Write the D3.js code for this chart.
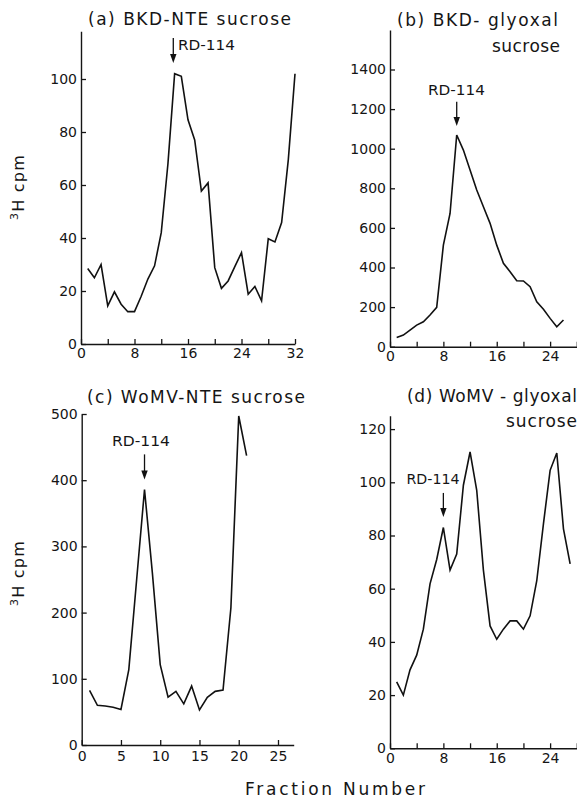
<!DOCTYPE html>
<html>
<head>
<meta charset="utf-8">
<script src="https://cdn.jsdelivr.net/npm/d3@7"></script>
<style>
  body { margin: 0; background: #fff; }
  svg { display: block; }
  text { font-family: "DejaVu Sans", sans-serif; fill: #151515; }
</style>
</head>
<body>
<svg id="chart" width="577" height="798"></svg>
<script>
// ---------------- DATA ----------------
// (a) BKD-NTE sucrose
const fractionsA = [1,2,3,4,5,6,7,8,9,10,11,12,13,14,15,16,17,18,19,20,21,22,23,24,25,26,27,28,29,30,31,32];
const cpmA = [28.5,25,30,14.4,19.7,15,12.2,12.2,18,24.5,29.5,42,68,102,101,84.6,77,57.7,60.8,28.8,21,23.8,29.2,34.5,18.8,21.7,16.3,39.7,38.5,45.8,69.6,102];
// (b) BKD-glyoxal sucrose
const fractionsB = [1,2,3,4,5,6,7,8,9,10,11,12,13,14,15,16,17,18,19,20,21,22,23,24,25,26];
const cpmB = [47,59,84,109,126,160,199,513,673,1069,993,892,791,707,623,513,421,379,333,332,303,227,189,143,101,135];
// (c) WoMV-NTE sucrose
const fractionsC = [1,2,3,4,5,6,7,8,9,10,11,12,13,14,15,16,17,18,19,20,21];
const cpmC = [82.5,60,59,57,53.7,114,250,386,260,121.5,72.4,81,62.2,89,53,72,81,83,207,497,437];
// (d) WoMV-glyoxal sucrose
const fractionsD = [1,2,3,4,5,6,7,8,9,10,11,12,13,14,15,16,17,18,19,20,21,22,23,24,25,26,27];
const cpmD = [25,20,29.5,35,44.8,61.8,71,83,67,73,98.9,111.4,97,67,46,41,44.8,47.9,47.9,44.8,49.8,63,84.4,104.5,111,82.5,69.3];

// axis ticks
const yTicksA = [0,20,40,60,80,100];
const yTicksB = [0,200,400,600,800,1000,1200,1400];
const yTicksC = [0,100,200,300,400,500];
const yTicksD = [0,20,40,60,80,100,120];
const xTicksA = [0,4,8,12,16,20,24,28,32];
const xLabelsA = [0,8,16,24,32];
const xTicksB = [0,4,8,12,16,20,24,28];
const xLabelsB = [0,8,16,24];
const xTicksC = [0,5,10,15,20,25];
const xLabelsC = [0,5,10,15,20,25];
const xTicksD = [0,4,8,12,16,20,24,28];
const xLabelsD = [0,8,16,24];

// RD-114 marker: fraction, arrow top (cpm), arrow tip (cpm)
const markerFraction = [13.8, 10, 8, 8];
const markerTop = [115.5, 1237, 439, 96];
const markerTip = [106, 1115, 401, 87];
const markerLabel = "RD-114";

// ---------------- LAYOUT ----------------
const svg = d3.select("#chart");

const panels = [
  { fr: fractionsA, v: cpmA, xDom: [0,32], xRange: [81, 295], yDom: [0,118], yRange: [344, 31.3],
    yTicks: yTicksA, xTicks: xTicksA, xLabels: xLabelsA, xPad: 4,
    m: 0, lab: { x: 178, y: 50, len: 57, anchor: "start" },
    titles: [{ t: "(a) BKD-NTE sucrose", x: 88, y: 25, len: 203 }] },
  { fr: fractionsB, v: cpmB, xDom: [0,28], xRange: [390, 576.8], yDom: [0,1600], yRange: [346.7, 29.9],
    yTicks: yTicksB, xTicks: xTicksB, xLabels: xLabelsB, xPad: 4,
    m: 1, lab: { x: 456.5, y: 95, len: 57, anchor: "middle" },
    titles: [{ t: "(b) BKD- glyoxal", x: 397, y: 26, len: 161 },
             { t: "sucrose", x: 492, y: 52, len: 68 }] },
  { fr: fractionsC, v: cpmC, xDom: [0,27], xRange: [81.7, 293.7], yDom: [0,500], yRange: [745, 414],
    yTicks: yTicksC, xTicks: xTicksC, xLabels: xLabelsC, xPad: 6,
    m: 2, lab: { x: 141, y: 445.7, len: 58, anchor: "middle" },
    titles: [{ t: "(c) WoMV-NTE sucrose", x: 87, y: 403, len: 218 }] },
  { fr: fractionsD, v: cpmD, xDom: [0,28], xRange: [390, 576.8], yDom: [0,125], yRange: [748.3, 415.8],
    yTicks: yTicksD, xTicks: xTicksD, xLabels: xLabelsD, xPad: 5,
    m: 3, lab: { x: 433, y: 484, len: 53, anchor: "middle" },
    titles: [{ t: "(d) WoMV - glyoxal", x: 407, y: 402, len: 170 },
             { t: "sucrose", x: 506, y: 427, len: 71 }] }
];

panels.forEach(p => {
  const x = d3.scaleLinear().domain(p.xDom).range(p.xRange);
  const y = d3.scaleLinear().domain(p.yDom).range(p.yRange);
  const g = svg.append("g");

  // y axis (ticks point inward)
  const ya = g.append("g")
    .attr("transform", `translate(${p.xRange[0]},0)`)
    .call(d3.axisLeft(y).tickValues(p.yTicks).tickFormat(d3.format("d"))
      .tickSizeInner(-5).tickSizeOuter(0).tickPadding(4));
  // x axis (ticks point upward)
  const xa = g.append("g")
    .attr("transform", `translate(0,${p.yRange[0]})`)
    .call(d3.axisBottom(x).tickValues(p.xTicks).tickSizeInner(-5).tickSizeOuter(0).tickPadding(p.xPad)
      .tickFormat(d => p.xLabels.includes(d) ? String(d) : ""));
  [ya, xa].forEach(a => {
    a.select(".domain").attr("stroke", "#151515").attr("stroke-width", 1.4);
    a.selectAll(".tick line").attr("stroke", "#151515").attr("stroke-width", 1.3);
    a.selectAll(".tick text").attr("font-size", 14).attr("font-family", '"DejaVu Sans", sans-serif').attr("fill", "#151515");
  });

  // data line
  const pts = p.fr.map((f, i) => [f, p.v[i]]);
  g.append("path")
    .datum(pts)
    .attr("fill", "none")
    .attr("stroke", "#111")
    .attr("stroke-width", 1.6)
    .attr("stroke-linejoin", "miter")
    .attr("d", d3.line().x(d => x(d[0])).y(d => y(d[1])));

  // RD-114 arrow
  const ax = x(markerFraction[p.m]);
  const yTop = y(markerTop[p.m]);
  const yTip = y(markerTip[p.m]);
  g.append("line")
    .attr("x1", ax).attr("x2", ax).attr("y1", yTop).attr("y2", yTip - 6)
    .attr("stroke", "#111").attr("stroke-width", 1.3);
  g.append("path")
    .attr("d", `M${ax - 3.2},${yTip - 9} L${ax + 3.2},${yTip - 9} L${ax},${yTip} Z`)
    .attr("fill", "#111");
  g.append("text")
    .attr("x", p.lab.x).attr("y", p.lab.y)
    .attr("text-anchor", p.lab.anchor)
    .attr("font-size", 14)
    .attr("textLength", p.lab.len).attr("lengthAdjust", "spacingAndGlyphs")
    .text(markerLabel);

  // titles
  p.titles.forEach(t => {
    g.append("text")
      .attr("x", t.x).attr("y", t.y)
      .attr("font-size", 17)
      .attr("textLength", t.len).attr("lengthAdjust", "spacing")
      .text(t.t);
  });
});

// y-axis labels "3H cpm"
[187, 573].forEach(cy => {
  const t = svg.append("text")
    .attr("transform", `translate(24,${cy}) rotate(-90)`)
    .attr("text-anchor", "middle")
    .attr("font-size", 16)
    .attr("letter-spacing", 1.2);
  t.append("tspan").attr("font-size", 11).attr("dy", -6).text("3");
  t.append("tspan").attr("dy", 6).text("H cpm");
});

// common x label
svg.append("text")
  .attr("x", 245).attr("y", 795)
  .attr("font-size", 17)
  .attr("textLength", 180).attr("lengthAdjust", "spacing")
  .text("Fraction Number");
</script>
</body>
</html>
